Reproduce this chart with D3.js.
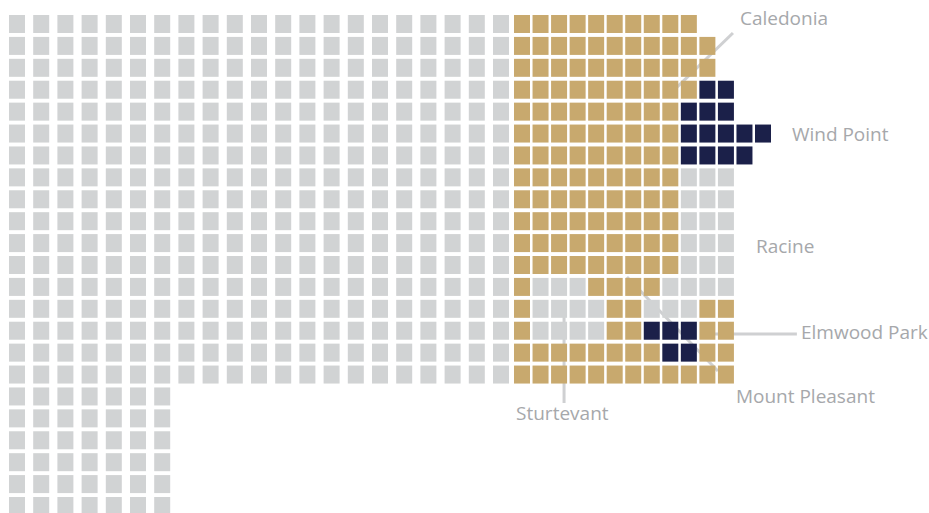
<!DOCTYPE html>
<html>
<head>
<meta charset="utf-8">
<script src="https://cdn.jsdelivr.net/npm/d3@7"></script>
<style>
  body { margin: 0; background: #fff; }
  text { font-family: "Open Sans", sans-serif; }
</style>
</head>
<body>
<script>
// tile grid: g = grey, y = gold, n = navy, . = no tile
// left part (21 columns) and right part (14 columns) of each row
var westRows = [
  "ggggggggggggggggggggg",
  "ggggggggggggggggggggg",
  "ggggggggggggggggggggg",
  "ggggggggggggggggggggg",
  "ggggggggggggggggggggg",
  "ggggggggggggggggggggg",
  "ggggggggggggggggggggg",
  "ggggggggggggggggggggg",
  "ggggggggggggggggggggg",
  "ggggggggggggggggggggg",
  "ggggggggggggggggggggg",
  "ggggggggggggggggggggg",
  "ggggggggggggggggggggg",
  "ggggggggggggggggggggg",
  "ggggggggggggggggggggg",
  "ggggggggggggggggggggg",
  "ggggggggggggggggggggg",
  "ggggggg..............",
  "ggggggg..............",
  "ggggggg..............",
  "ggggggg..............",
  "ggggggg..............",
  "ggggggg.............."
];

var eastRows = [
  "yyyyyyyyyy....",
  "yyyyyyyyyyy...",
  "yyyyyyyyyyy...",
  "yyyyyyyyyynn..",
  "yyyyyyyyynnn..",
  "yyyyyyyyynnnnn",
  "yyyyyyyyynnnn.",
  "yyyyyyyyyggg..",
  "yyyyyyyyyggg..",
  "yyyyyyyyyggg..",
  "yyyyyyyyyggg..",
  "yyyyyyyyyggg..",
  "ygggyyyygggg..",
  "yggggyygggyy..",
  "yggggyynnnyy..",
  "yyyyyyyynnyy..",
  "yyyyyyyyyyyy.."
];

var placeNames = ["Caledonia", "Wind Point", "Racine", "Elmwood Park", "Mount Pleasant", "Sturtevant"];

// label anchors and leader lines, in grid units (column, row)
var labelPos = [[33.19, 0.46], [35.99, 5.75], [34.05, 10.86], [36.48, 14.79], [32.97, 17.71], [21.11, 18.48]];
var leaders = [
  [[32.81, 0.82], [29.25, 3.74]],
  null,
  null,
  [[31.03, 14.56], [36.26, 14.56]],
  [[27.09, 11.96], [32.0, 16.25]],
  [[23.70, 13.69], [23.70, 17.71]]
];

var w = 929, h = 513;
var tileW = 16, tileH = 18;
var colors = { g: "#d1d3d4", y: "#c8a96e", n: "#1b2049" };

var svg = d3.select("body").append("svg")
  .attr("width", w)
  .attr("height", h);

// grey block is spaced wider than the county block
var x = d3.scaleLinear().domain([0, 20, 21, 34]).range([9, 493, 514, 755]);
var y = d3.scaleLinear().domain([0, 22]).range([15, 497]);

var tiles = [];
westRows.forEach(function(row, r) {
  var full = row + (eastRows[r] || "");
  for (var i = 0; i < full.length; i++) {
    if (full[i] != ".") tiles.push({ row: r, col: i, code: full[i] });
  }
});

// leader lines go under the tiles
svg.append("g")
  .selectAll("line")
  .data(leaders.filter(function(d) { return d; }))
  .enter()
  .append("line")
  .attr("x1", function(d) { return x(d[0][0]); })
  .attr("y1", function(d) { return y(d[0][1]); })
  .attr("x2", function(d) { return x(d[1][0]); })
  .attr("y2", function(d) { return y(d[1][1]); })
  .style("stroke", "#cfd0d2")
  .style("stroke-width", 3);

svg.append("g")
  .selectAll("rect")
  .data(tiles)
  .enter()
  .append("rect")
  .attr("x", function(d) { return x(d.col); })
  .attr("y", function(d) { return y(d.row); })
  .attr("width", tileW)
  .attr("height", tileH)
  .style("fill", function(d) { return colors[d.code]; });

svg.append("g")
  .selectAll("text")
  .data(placeNames)
  .enter()
  .append("text")
  .attr("x", function(d, i) { return x(labelPos[i][0]); })
  .attr("y", function(d, i) { return y(labelPos[i][1]); })
  .style("font-size", "19px")
  .style("fill", "#a6a8ab")
  .text(function(d) { return d; });
</script>
</body>
</html>
